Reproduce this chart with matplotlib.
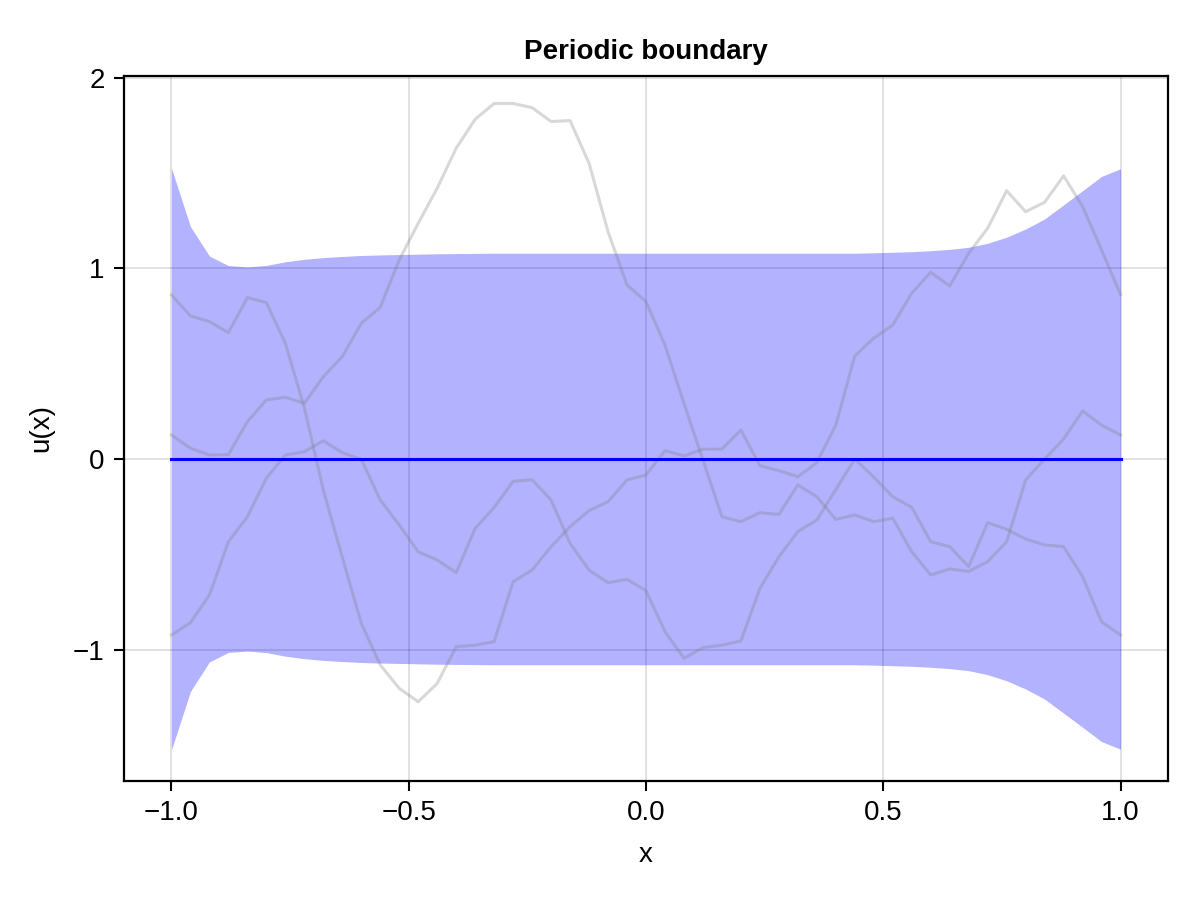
import numpy as np
import matplotlib
matplotlib.use("Agg")
import matplotlib.pyplot as plt

plt.rcParams['font.family'] = ['Liberation Sans', 'DejaVu Sans']

# grid of 51 input points on [-1, 1]
x = np.linspace(-1.0, 1.0, 51)

# posterior mean and std (band = mean +/- std)
mean = np.zeros(51)
std = [1.526, 1.220, 1.065, 1.015, 1.008, 1.016, 1.035, 1.048, 1.057, 1.063,
       1.068, 1.071, 1.073, 1.075, 1.077, 1.078, 1.079, 1.080, 1.080, 1.080,
       1.080, 1.080, 1.080, 1.080, 1.080, 1.080, 1.080, 1.080, 1.080, 1.080,
       1.080, 1.080, 1.080, 1.080, 1.080, 1.080, 1.080, 1.082, 1.085, 1.088,
       1.093, 1.100, 1.111, 1.132, 1.164, 1.207, 1.260, 1.334, 1.408, 1.483,
       1.523]

# three posterior samples
sample1 = [0.861, 0.751, 0.721, 0.663, 0.847, 0.821, 0.607, 0.270, -0.163, -0.516,
           -0.862, -1.081, -1.204, -1.274, -1.178, -0.985, -0.977, -0.959, -0.644, -0.583,
           -0.460, -0.355, -0.271, -0.224, -0.110, -0.084, 0.044, 0.016, 0.051, 0.052,
           0.152, -0.035, -0.061, -0.093, -0.019, 0.178, 0.541, 0.634, 0.703, 0.870,
           0.980, 0.908, 1.080, 1.211, 1.408, 1.298, 1.347, 1.486, 1.325, 1.097,
           0.863]
sample2 = [0.126, 0.056, 0.021, 0.023, 0.196, 0.310, 0.324, 0.292, 0.432, 0.537,
           0.712, 0.796, 1.045, 1.237, 1.421, 1.631, 1.783, 1.866, 1.866, 1.844,
           1.771, 1.776, 1.552, 1.193, 0.913, 0.826, 0.598, 0.292, -0.005, -0.303,
           -0.329, -0.282, -0.291, -0.136, -0.198, -0.317, -0.294, -0.329, -0.311, -0.487,
           -0.609, -0.577, -0.590, -0.539, -0.434, -0.110, 0.000, 0.105, 0.252, 0.178,
           0.126]
sample3 = [-0.924, -0.859, -0.714, -0.434, -0.303, -0.101, 0.021, 0.038, 0.096, 0.033,
           -0.002, -0.215, -0.346, -0.487, -0.530, -0.597, -0.364, -0.254, -0.117, -0.109,
           -0.215, -0.443, -0.583, -0.649, -0.632, -0.691, -0.906, -1.046, -0.990, -0.977,
           -0.955, -0.679, -0.513, -0.381, -0.320, -0.160, 0.000, -0.096, -0.198, -0.254,
           -0.434, -0.460, -0.565, -0.334, -0.369, -0.420, -0.451, -0.460, -0.618, -0.854,
           -0.924]
samples = [sample1, sample2, sample3]

fig = plt.figure(figsize=(12, 9), dpi=100)
ax = fig.add_axes([124 / 1200, 1 - 781 / 900, 1044 / 1200, 705 / 900])

std = np.array(std)
ax.fill_between(x, mean - std, mean + std, color='blue', alpha=0.3, linewidth=0, zorder=2)
for s in samples:
    ax.plot(x, s, color='gray', alpha=0.3, linewidth=2.2, zorder=3)
ax.plot(x, mean, color='blue', linewidth=2.2, zorder=4)

ax.set_xlim(-1.1, 1.1)
ax.set_ylim(-1.69, 2.01)
ax.set_xticks([-1.0, -0.5, 0.0, 0.5, 1.0])
ax.set_yticks([-1, 0, 1, 2])
ax.set_xticklabels(['\u22121.0', '\u22120.5', '0.0', '0.5', '1.0'])
ax.set_yticklabels(['\u22121', '0', '1', '2'])

ax.grid(True, color='black', alpha=0.12, linewidth=1.4, zorder=0)
ax.set_axisbelow(True)
for sp in ax.spines.values():
    sp.set_linewidth(1.6)
ax.tick_params(direction='out', length=7, width=1.5, labelsize=20, pad=7)

ax.set_title('Periodic boundary', fontsize=20, fontweight='bold', pad=12)
ax.set_xlabel('x', fontsize=20, labelpad=11)
ax.set_ylabel('u(x)', fontsize=20, labelpad=13)

fig.savefig('out.png', dpi=100)
